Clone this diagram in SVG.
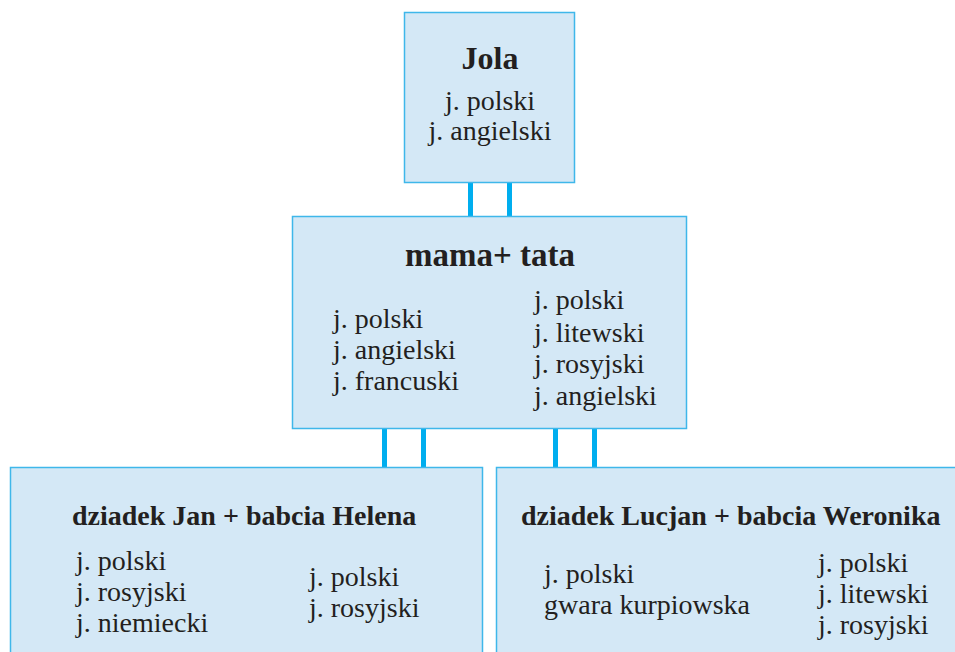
<svg xmlns="http://www.w3.org/2000/svg" width="955" height="652" viewBox="0 0 955 652">
<style>
.box{fill:#d4e8f6;stroke:#3fb7ea;stroke-width:1.5}
.t{font-family:"Liberation Serif","Times New Roman",serif;font-size:28px;fill:#231f20}
.b{font-family:"Liberation Serif","Times New Roman",serif;font-weight:bold;fill:#231f20}
.c{stroke:#00aeef;stroke-width:5;fill:none}
</style>
<rect width="955" height="652" fill="#ffffff"/>
<g id="connectors">
<line class="c" x1="470.5" y1="182" x2="470.5" y2="216"/>
<line class="c" x1="509.5" y1="182" x2="509.5" y2="216"/>
<line class="c" x1="384.5" y1="429" x2="384.5" y2="467"/>
<line class="c" x1="423.5" y1="429" x2="423.5" y2="467"/>
<line class="c" x1="555.5" y1="429" x2="555.5" y2="467"/>
<line class="c" x1="594.5" y1="429" x2="594.5" y2="467"/>
</g>
<g id="jola">
<rect class="box" x="404.5" y="12.5" width="170" height="170"/>
<text class="b" x="490" y="69" font-size="32" text-anchor="middle">Jola</text>
<text class="t" x="490" y="110" text-anchor="middle">j. polski</text>
<text class="t" x="490" y="140" text-anchor="middle">j. angielski</text>
</g>
<g id="rodzice">
<rect class="box" x="292.5" y="216.5" width="394" height="212"/>
<text class="b" x="490" y="266" font-size="33" text-anchor="middle">mama+ tata</text>
<text class="t" x="333" y="328">j. polski</text>
<text class="t" x="333" y="359">j. angielski</text>
<text class="t" x="333" y="390">j. francuski</text>
<text class="t" x="534" y="309">j. polski</text>
<text class="t" x="534" y="342">j. litewski</text>
<text class="t" x="534" y="373">j. rosyjski</text>
<text class="t" x="534" y="405">j. angielski</text>
</g>
<g id="dziadkowie1">
<rect class="box" x="10.5" y="467.5" width="472" height="190"/>
<text class="b" x="72" y="525" font-size="28">dziadek Jan + babcia Helena</text>
<text class="t" x="76" y="570">j. polski</text>
<text class="t" x="76" y="601">j. rosyjski</text>
<text class="t" x="76" y="632">j. niemiecki</text>
<text class="t" x="309" y="586">j. polski</text>
<text class="t" x="309" y="617">j. rosyjski</text>
</g>
<g id="dziadkowie2">
<rect class="box" x="496.5" y="467.5" width="470" height="190"/>
<text class="b" x="521" y="525" font-size="28">dziadek Lucjan + babcia Weronika</text>
<text class="t" x="544" y="583">j. polski</text>
<text class="t" x="544" y="614">gwara kurpiowska</text>
<text class="t" x="818" y="572">j. polski</text>
<text class="t" x="818" y="603">j. litewski</text>
<text class="t" x="818" y="634">j. rosyjski</text>
</g>
</svg>
